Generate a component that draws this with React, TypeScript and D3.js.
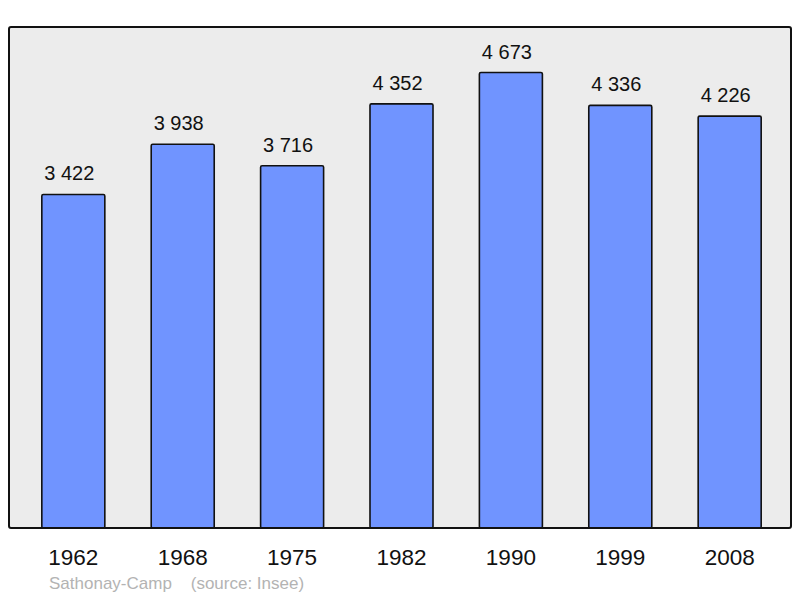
import React from "react";
import * as d3 from "d3";

const years = ["1962", "1968", "1975", "1982", "1990", "1999", "2008"];
const population = [3422, 3938, 3716, 4352, 4673, 4336, 4226];
const sourceText = "Sathonay-Camp    (source: Insee)";

const W = 800;
const H = 598;
const panel = { left: 9, top: 27, right: 791, bottom: 528 };

const fmt = (v: number) => d3.format(",")(v).replace(/,/g, " ");

export default function App() {
  const x = d3
    .scaleBand<string>()
    .domain(years)
    .range([9, 794])
    .paddingInner(0.424)
    .paddingOuter(0.3);

  const y = d3
    .scaleLinear()
    .domain([0, d3.max(population)! * 1.1])
    .range([panel.bottom, panel.top]);

  const font = "'Liberation Sans', Arial, sans-serif";

  return (
    <div style={{ position: "absolute", left: 0, top: 0 }}>
      <svg width={W} height={H} style={{ display: "block" }} fontFamily={font}>
        <rect
          x={panel.left}
          y={panel.top}
          width={panel.right - panel.left}
          height={panel.bottom - panel.top}
          rx={2}
          fill="#ececec"
        />
        {years.map((yr, i) => {
          const v = population[i];
          const bx = x(yr)!;
          const cx = bx + x.bandwidth() / 2;
          return (
            <g key={yr}>
              <rect
                x={bx}
                y={y(v)}
                width={x.bandwidth()}
                height={panel.bottom - y(v)}
                rx={1.5}
                fill="#7094ff"
                stroke="#111"
                strokeWidth={1.6}
              />
              <text x={cx - 4} y={y(v) - 14} textAnchor="middle" fontSize={20} fill="#111">
                {fmt(v)}
              </text>
              <text x={cx} y={565} textAnchor="middle" fontSize={22.5} fill="#111">
                {yr}
              </text>
            </g>
          );
        })}
        <rect
          x={panel.left}
          y={panel.top}
          width={panel.right - panel.left}
          height={panel.bottom - panel.top}
          rx={2}
          fill="none"
          stroke="#111"
          strokeWidth={2}
        />
        <text x={49} y={589} fontSize={17} fill="#b3b3b3" style={{ whiteSpace: "pre" }}>
          {sourceText}
        </text>
      </svg>
    </div>
  );
}
